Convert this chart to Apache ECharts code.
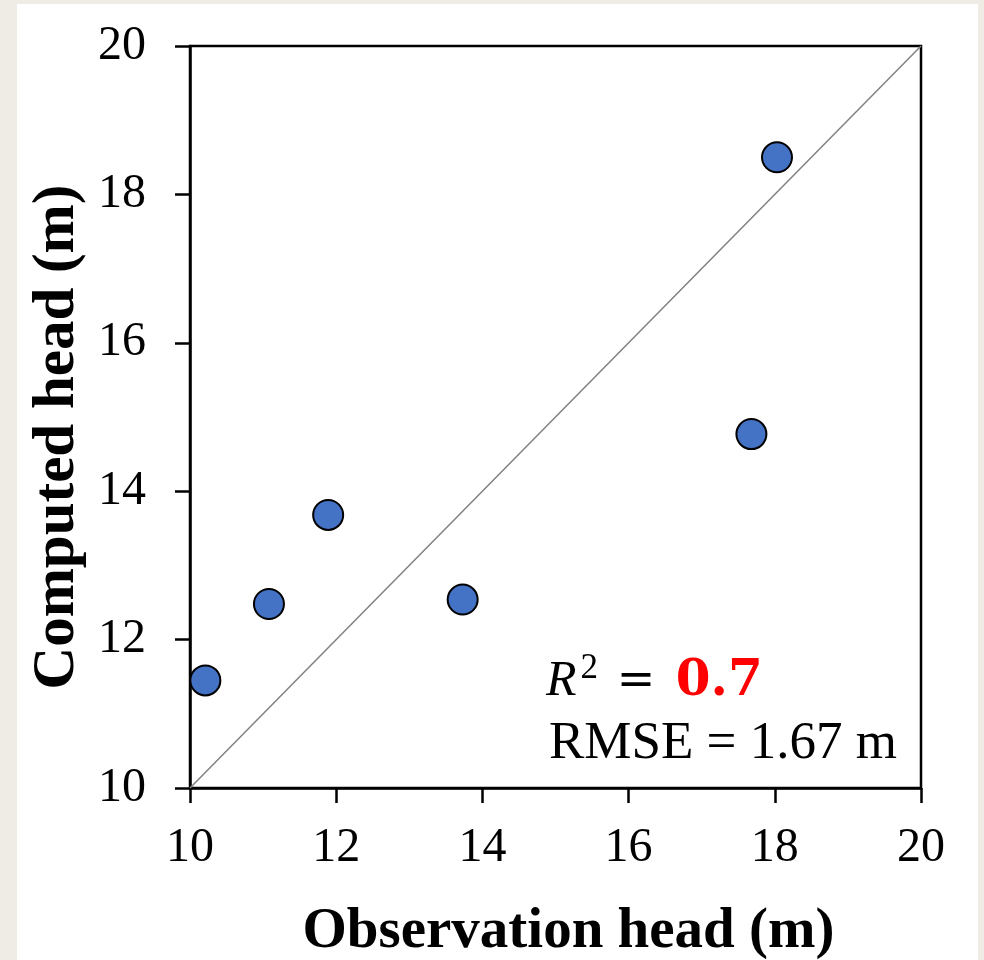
<!DOCTYPE html>
<html><head><meta charset="utf-8">
<script src="https://cdn.jsdelivr.net/npm/echarts@6/dist/echarts.min.js"></script>
<style>
html,body{margin:0;padding:0;background:#EFECE6;}
#panel{position:absolute;left:17px;top:4px;width:961px;height:956px;background:#fff;}
#chart{position:absolute;left:0;top:0;width:984px;height:960px;}
</style></head>
<body><div id="panel"></div><div id="chart"></div>
<script>
const observed = [10.21, 11.08, 11.89, 13.73, 17.68, 18.03];
const computed = [11.45, 12.48, 13.68, 12.54, 14.77, 18.50];
const axisTicks = [10, 12, 14, 16, 18, 20];
const oneToOne = [[10, 10], [20, 20]];
const r2Text = '0.7';
const rmseText = 'RMSE = 1.67 m';

const pts = observed.map((x, i) => [x, computed[i]]);
const chart = echarts.init(document.getElementById('chart'), null, {renderer: 'canvas'});
const serif = '"Liberation Serif","Times New Roman",serif';
const axisCommon = {
  min: axisTicks[0], max: axisTicks[axisTicks.length - 1], interval: 2,
  axisLine: {show: true, onZero: false, lineStyle: {color: '#000', width: 2.5}},
  axisTick: {show: true, inside: false, length: 15, lineStyle: {color: '#000', width: 2.5}},
  splitLine: {show: false},
  nameLocation: 'middle'
};
chart.setOption({
  animation: false,
  grid: {left: 190, right: 63, top: 46, bottom: 172, show: true, borderColor: '#000', borderWidth: 2.5,
         containLabel: false, outerBoundsMode: 'none'},
  xAxis: Object.assign({}, axisCommon, {
    type: 'value', name: 'Observation head (m)', nameGap: 116,
    nameTextStyle: {fontFamily: serif, fontWeight: 'bold', fontSize: 57, color: '#000', padding: [0, 0, 0, 26]},
    axisLabel: {fontFamily: serif, fontSize: 48, color: '#000', margin: 36}
  }),
  yAxis: Object.assign({}, axisCommon, {
    type: 'value', name: 'Computed head (m)', nameGap: 92,
    nameTextStyle: {fontFamily: serif, fontWeight: 'bold', fontSize: 59, color: '#000', padding: [0, 40, 0, 0]},
    axisLabel: {fontFamily: serif, fontSize: 48, color: '#000', margin: 44}
  }),
  title: {
    left: 541, top: 646,
    text: '{r|R}{s|2}{e| = }{v|' + r2Text + '}\n{n|' + rmseText + '}',
    textStyle: {
      fontWeight: 'normal',
      rich: {
        r: {fontFamily: serif, fontStyle: 'italic', fontWeight: 'normal', fontSize: 50, color: '#000', lineHeight: 62},
        s: {fontFamily: serif, fontWeight: 'normal', fontSize: 35, color: '#000', verticalAlign: 'top', lineHeight: 62, padding: [0, 4, 18, 4]},
        e: {fontFamily: '"DejaVu Serif",serif', fontWeight: 'normal', fontSize: 46, color: '#000', lineHeight: 62},
        v: {fontFamily: '"DejaVu Serif",serif', fontWeight: 'bold', fontSize: 50, color: '#FF0000', lineHeight: 62, padding: [0, 0, 0, 6]},
        n: {fontFamily: serif, fontWeight: 'normal', fontSize: 53, color: '#000', lineHeight: 62, padding: [0, 0, 0, 3]}
      }
    }
  },
  series: [
    {
      type: 'line', data: oneToOne, symbol: 'none', silent: true,
      lineStyle: {color: '#808080', width: 1.5}, z: 1
    },
    {
      type: 'scatter', data: pts, symbolSize: 30,
      itemStyle: {color: '#4472C4', borderColor: '#000', borderWidth: 2, opacity: 1}, z: 3
    }
  ]
});
</script></body></html>
